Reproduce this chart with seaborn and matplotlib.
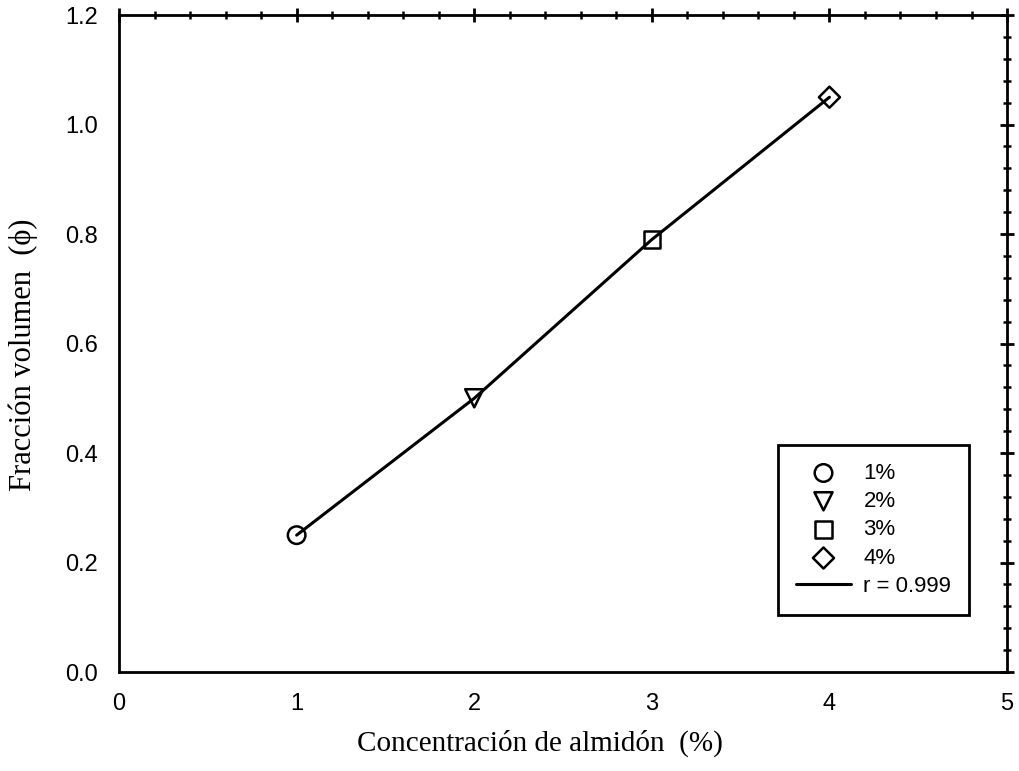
import matplotlib
matplotlib.use("Agg")
import matplotlib.pyplot as plt
import seaborn as sns
import pandas as pd
from matplotlib.ticker import MultipleLocator, FormatStrFormatter

# Starch concentration (%) vs. volume fraction
concentracion = [1, 2, 3, 4]
fraccion = [0.25, 0.50, 0.79, 1.05]
etiquetas = ["1%", "2%", "3%", "4%"]
marcadores = ["o", "v", "s", "D"]
tamanos = [160, 170, 140, 115]

sns.set_theme(style="white")
plt.rcParams["font.family"] = ["Liberation Sans", "DejaVu Sans"]
plt.rcParams["text.color"] = "black"

fig = plt.figure(figsize=(10.2, 7.71), dpi=100)
ax = fig.add_axes([0.1167, 0.1284, 0.8706, 0.852])

df = pd.DataFrame({"c": concentracion, "phi": fraccion})
sns.lineplot(data=df, x="c", y="phi", color="black", linewidth=2.2,
             ax=ax, label="r = 0.999", zorder=2)

for x, y, lab, m, s in zip(concentracion, fraccion, etiquetas, marcadores, tamanos):
    sns.scatterplot(x=[x], y=[y], marker=m, s=s, facecolor="none",
                    edgecolor="black", linewidth=1.8, ax=ax, label=lab, zorder=3)

ax.set_xlim(0, 5)
ax.set_ylim(0, 1.2)
ax.xaxis.set_major_locator(MultipleLocator(1))
ax.xaxis.set_minor_locator(MultipleLocator(0.2))
ax.yaxis.set_major_locator(MultipleLocator(0.2))
ax.yaxis.set_minor_locator(MultipleLocator(0.04))
ax.yaxis.set_major_formatter(FormatStrFormatter("%.1f"))

ax.tick_params(which="both", direction="inout", top=True, right=True,
               color="black", labelsize=17, labelcolor="black")
ax.tick_params(which="major", length=10, width=2, pad=10)
ax.tick_params(which="minor", length=6, width=1.8)
for sp in ax.spines.values():
    sp.set_color("black")
    sp.set_linewidth(2)

ax.set_xlabel("Concentración de almidón  (%)", family=["Liberation Serif"],
              fontsize=21, color="black")
ax.set_ylabel("Fracción volumen  (\u03d5)", family=["Liberation Serif", "DejaVu Serif"],
              fontsize=22, color="black")
ax.xaxis.set_label_coords(0.474, -0.088)
ax.yaxis.set_label_coords(-0.091, 0.4825)

handles, labels = ax.get_legend_handles_labels()
order = [labels.index(l) for l in etiquetas + ["r = 0.999"]]
leg = ax.legend([handles[i] for i in order], [labels[i] for i in order],
                loc="upper left", bbox_to_anchor=(0.742, 0.3455),
                borderaxespad=0, fontsize=16, frameon=True, fancybox=False,
                framealpha=1, edgecolor="black", labelcolor="black",
                handlelength=2.5, labelspacing=0.33,
                borderpad=0.8, handletextpad=0.55)
leg.get_frame().set_linewidth(2)

fig.savefig("out.png", dpi=100, facecolor="white")
